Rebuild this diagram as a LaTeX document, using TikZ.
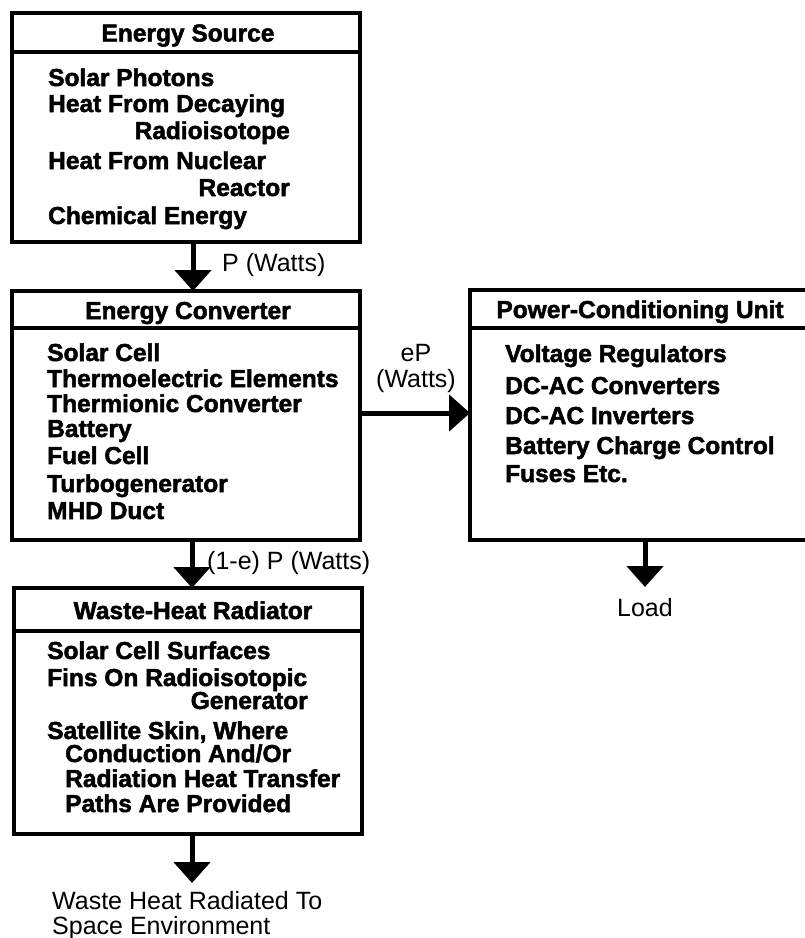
\documentclass[tikz,border=0pt]{standalone}
\usepackage{fontspec}
\setmainfont{Liberation Sans}[BoldFeatures={FakeBold=2}]
\usetikzlibrary{arrows.meta}
\tikzset{
  boxframe/.style={draw, line width=3.5pt, inner sep=0pt, outer sep=0pt, anchor=north west},
  divline/.style={line width=3.5pt},
  ttl/.style={font=\fontsize{24.5}{26}\selectfont\bfseries, inner sep=0pt, text height=18pt, text depth=0pt},
  itm/.style={font=\fontsize{24.5}{26}\selectfont\bfseries, inner sep=0pt, text height=18pt, text depth=0pt, anchor=west},
  itmr/.style={itm, anchor=east},
  lbl/.style={font=\fontsize{25}{27}\selectfont, inner sep=0pt, text height=18pt, text depth=0pt},
  flow/.style={line width=5pt, -{Triangle[width=36pt,length=21pt]}},
}
\begin{document}
\begin{tikzpicture}[x=1pt, y=-1pt]
\useasboundingbox (0,0) rectangle (805,938);
% boxes
\node[boxframe, minimum width=348pt, minimum height=229pt] (src) at (12,13) {};
\node[boxframe, minimum width=348pt, minimum height=249pt] (conv) at (12,291) {};
\node[boxframe, minimum width=350pt, minimum height=250pt] (pcu) at (470,290) {};
\node[boxframe, minimum width=348pt, minimum height=246pt] (waste) at (14,588) {};
% dividers
\draw[divline] ([yshift=-39pt]src.north west) -- ([yshift=-39pt]src.north east);
\draw[divline] ([yshift=-37pt]conv.north west) -- ([yshift=-37pt]conv.north east);
\draw[divline] ([yshift=-38pt]pcu.north west) -- ([yshift=-38pt]pcu.north east);
\draw[divline] ([yshift=-43pt]waste.north west) -- ([yshift=-43pt]waste.north east);
% titles
\node[ttl] (srcT) at (188,32.5) {Energy Source};
\node[ttl] (convT) at (188,310) {Energy Converter};
\node[ttl] (pcuT) at (640,309) {Power-Conditioning Unit};
\node[ttl] (wasteT) at (193,610) {Waste-Heat Radiator};
% energy source items
\node[itm] (s1) at (48,77) {Solar Photons};
\node[itm] (s2) at (48,103) {Heat From Decaying};
\node[itmr] (s3) at (290,130) {Radioisotope};
\node[itm] (s4) at (48,160) {Heat From Nuclear};
\node[itmr] (s5) at (290,187) {Reactor};
\node[itm] (s6) at (48,215) {Chemical Energy};
% converter items
\node[itm] (c1) at (47,352) {Solar Cell};
\node[itm] (c2) at (47,378) {Thermoelectric Elements};
\node[itm] (c3) at (47,403) {Thermionic Converter};
\node[itm] (c4) at (47,428) {Battery};
\node[itm] (c5) at (47,455) {Fuel Cell};
\node[itm] (c6) at (47,483) {Turbogenerator};
\node[itm] (c7) at (47,510) {MHD Duct};
% power conditioning items
\node[itm] (p1) at (505,353) {Voltage Regulators};
\node[itm] (p2) at (505,385) {DC-AC Converters};
\node[itm] (p3) at (505,415) {DC-AC Inverters};
\node[itm] (p4) at (505,445) {Battery Charge Control};
\node[itm] (p5) at (505,473) {Fuses Etc.};
% waste heat items
\node[itm] (w1) at (47,650) {Solar Cell Surfaces};
\node[itm] (w2) at (47,677) {Fins On Radioisotopic};
\node[itmr] (w3) at (308,700) {Generator};
\node[itm] (w4) at (47,730) {Satellite Skin, Where};
\node[itm] (w5) at (65,753) {Conduction And/Or};
\node[itm] (w6) at (65,778) {Radiation Heat Transfer};
\node[itm] (w7) at (65,803) {Paths Are Provided};
% helper coordinates
\coordinate (a1) at (193,0);
\coordinate (a2) at (192,0);
\coordinate (hy) at (0,413);
\coordinate (loadtip) at (645,587);
\coordinate (wastetip) at (192,883);
% connectors
\draw[flow] (src.south -| a1) -- (conv.north -| a1);
\draw[flow] (conv.south -| a2) -- (waste.north -| a2);
\draw[flow] (conv.east |- hy) -- (pcu.west |- hy);
\draw[flow] (pcu.south -| loadtip) -- (loadtip);
\draw[flow] (waste.south -| wastetip) -- (wastetip);
% labels
\node[lbl, anchor=west] (l1) at (222,262) {P (Watts)};
\node[lbl, anchor=west] (l2) at (207,560) {(1-e) P (Watts)};
\node[lbl] (l3a) at (416,352) {eP};
\node[lbl] (l3b) at (416,378) {(Watts)};
\node[lbl] (load) at (645,607) {Load};
\node[lbl, anchor=west] (out1) at (52,900) {Waste Heat Radiated To};
\node[lbl, anchor=west] (out2) at (52,925) {Space Environment};
\end{tikzpicture}
\end{document}
